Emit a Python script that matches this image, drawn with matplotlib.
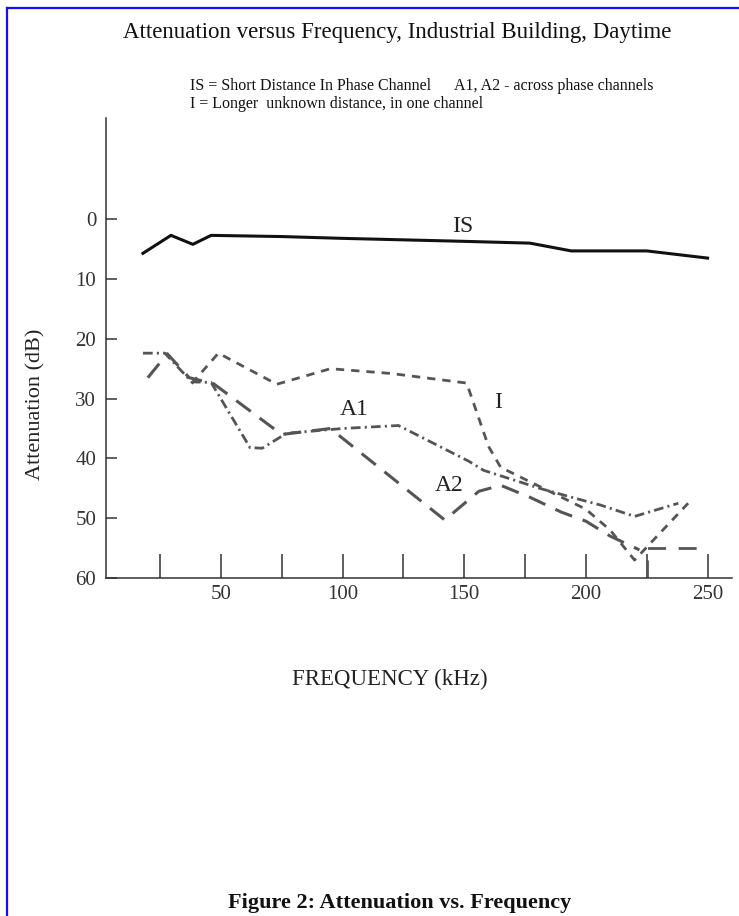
import matplotlib
matplotlib.use('Agg')
import matplotlib.pyplot as plt
from matplotlib.lines import Line2D

plt.rcParams['font.family'] = ['Liberation Serif', 'DejaVu Serif']
plt.rcParams['lines.scale_dashes'] = False

# Data (frequency in kHz, attenuation in dB)
freq_is = [18, 29.5, 38.5, 46, 75, 100, 150, 177, 194, 225, 250]
att_is = [5.7, 2.7, 4.2, 2.7, 2.9, 3.2, 3.7, 4.0, 5.3, 5.3, 6.5]

freq_i = [38, 49, 73, 95, 120, 151, 160, 165, 175, 190, 200, 210, 220, 242]
att_i = [27.5, 22.4, 27.6, 25.0, 25.8, 27.4, 38.0, 41.5, 43.5, 46.5, 48.5, 52.0, 57.0, 47.5]

freq_a1 = [18, 27, 38, 46, 62, 67, 77, 100, 123, 152, 158, 181, 195, 206, 220, 238]
att_a1 = [22.4, 22.4, 27.2, 27.3, 38.2, 38.3, 35.8, 35.0, 34.5, 40.5, 42.0, 45.0, 46.6, 47.8, 49.7, 47.5]

freq_a2 = [20, 28, 37, 47, 75, 95, 142, 156, 165, 177, 190, 200, 210, 222]
att_a2 = [26.5, 22.5, 26.5, 27.5, 36.0, 35.0, 50.3, 45.5, 44.5, 46.5, 49.0, 50.5, 53.0, 55.3]

freq_a2_tail = [225, 225, 250]
att_a2_tail = [60, 55, 55]

# curve labels: (text, kHz, dB)
curve_labels = [('IS', 149.5, 1.3), ('A1', 105, 31.9), ('A2', 144, 44.5), ('I', 164, 30.6)]

x_ticks = [25, 50, 75, 100, 125, 150, 175, 200, 225, 250]
x_tick_labels = ['', '50', '', '100', '', '150', '', '200', '', '250']
y_ticks = [0, 10, 20, 30, 40, 50, 60]

fig = plt.figure(figsize=(7.39, 9.16), dpi=100)
ax = fig.add_axes([0.1434, 0.369, 0.847, 0.502])

grey = '#555555'
ax.plot(freq_is, att_is, color='#111111', lw=2.2, solid_joinstyle='round')
ax.plot(freq_i, att_i, color=grey, lw=2.0, linestyle=(0, (6, 5)))
ax.plot(freq_a1, att_a1, color=grey, lw=2.0, linestyle=(0, (7, 3, 1.5, 3)))
ax.plot(freq_a2, att_a2, color=grey, lw=2.2, linestyle=(0, (13, 8)))
ax.plot(freq_a2_tail, att_a2_tail, color=grey, lw=2.0, linestyle=(0, (13, 9)))

for txt, fx, fy in curve_labels:
    ax.text(fx, fy, txt, fontsize=17, ha='center', va='center', color='#222222')

ax.set_xlim(2.8, 260)
ax.set_ylim(60, -16.9)

ax.set_xticks(x_ticks)
ax.set_xticklabels(x_tick_labels)
ax.set_yticks(y_ticks)
ax.tick_params(axis='x', direction='in', length=17, width=1.1, pad=5,
               labelsize=15, colors='#333333')
ax.tick_params(axis='y', direction='in', length=8, width=1.1, pad=7,
               labelsize=15, colors='#333333')

for side in ['top', 'right']:
    ax.spines[side].set_visible(False)
for side in ['left', 'bottom']:
    ax.spines[side].set_color('#333333')
    ax.spines[side].set_linewidth(1.1)

# text around the axes
fig.text(36 / 739, 1 - 404 / 916, 'Attenuation (dB)', fontsize=16, rotation=90,
         ha='center', va='center', color='#222222')
fig.text(0.537, 0.964, 'Attenuation versus Frequency, Industrial Building, Daytime',
         fontsize=16.5, ha='center', va='center', color='#111111')
fig.text(190 / 739, 1 - 86 / 916, 'IS = Short Distance In Phase Channel',
         fontsize=11.5, ha='left', va='center', color='#111111')
fig.text(454 / 739, 1 - 86 / 916, 'A1, A2 - across phase channels',
         fontsize=11.5, ha='left', va='center', color='#111111')
fig.text(190 / 739, 1 - 104 / 916, 'I = Longer  unknown distance, in one channel',
         fontsize=11.5, ha='left', va='center', color='#111111')
fig.text(0.527, 0.258, 'FREQUENCY (kHz)', fontsize=16.5, ha='center', va='center',
         color='#222222')
fig.text(0.541, 0.014, 'Figure 2: Attenuation vs. Frequency', fontsize=16,
         fontweight='bold', ha='center', va='center', color='#111111')

# blue frame lines (top and left)
fig.add_artist(Line2D([7 / 739, 1.0], [1 - 8 / 916, 1 - 8 / 916], color='#1010ff',
                      lw=1.6, transform=fig.transFigure))
fig.add_artist(Line2D([7 / 739, 7 / 739], [0.0, 1 - 8 / 916], color='#1010ff',
                      lw=1.6, transform=fig.transFigure))

fig.savefig('out.png', dpi=100)
